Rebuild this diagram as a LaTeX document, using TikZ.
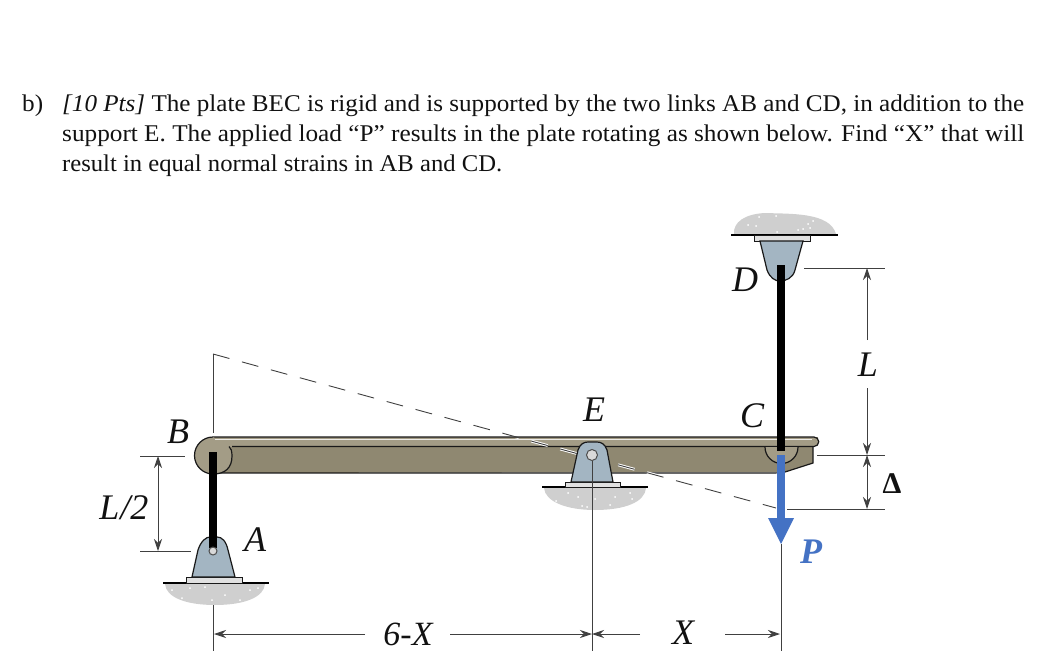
\documentclass[tikz,border=0pt]{standalone}
\usepackage{fontspec}
\setmainfont{Liberation Serif}[FakeStretch=1.05]
\newfontfamily\dimfont{Liberation Serif}
\usetikzlibrary{arrows.meta}
\definecolor{plateCol}{HTML}{8F8871}
\definecolor{plateTop}{HTML}{A39C86}
\definecolor{steelCol}{HTML}{A3B5C2}
\definecolor{groundCol}{HTML}{CFCFCF}
\definecolor{loadCol}{HTML}{4472C4}
\definecolor{inkCol}{HTML}{111111}
\tikzset{
 x=1pt,y=-1pt,
 para/.style={anchor=base west,inner sep=0pt,font=\fontsize{24}{28}\selectfont,text=inkCol},
 lab/.style={inner sep=0pt,font=\dimfont\fontsize{36}{40}\selectfont\itshape,text=inkCol},
 dimline/.style={draw=black!75,line width=0.9pt},
 dimarrow/.style={dimline,{Stealth[length=12pt,width=8pt]}-{Stealth[length=12pt,width=8pt]}},
 oneend/.style={dimline,-{Stealth[length=12pt,width=8pt]}},
 outline/.style={draw=black!90,line width=1.2pt},
 bracket/.style={outline,fill=steelCol},
 baseplate/.style={draw=black!90,line width=1pt,fill=black!12},
 groundline/.style={draw=black,line width=1.4pt},
 ground/.style={fill=groundCol,draw=none},
 speck/.style={fill=white,draw=none},
 linkbar/.style={draw=black,line width=8pt},
 pinhole/.style={circle,draw=black!70,line width=1pt,fill=black!15,inner sep=0pt},
 dashguide/.style={draw=black!75,line width=0.9pt,dash pattern=on 17pt off 13pt},
}
\begin{document}
\begin{tikzpicture}
\useasboundingbox (0,0) rectangle (1047,669);
% paragraph
\node[para] (t0) at (22,111) {b)};
\node[para] (t1) at (62,111) {\resizebox{962pt}{\height}{\textit{[10 Pts]} The plate BEC is rigid and is supported by the two links AB and CD, in addition to the}};
\node[para] (t2) at (62,141) {\resizebox{962pt}{\height}{support E. The applied load “P” results in the plate rotating as shown below. Find “X” that will}};
\node[para] (t3) at (62,171) {\resizebox{440pt}{\height}{result in equal normal strains in AB and CD.}};

% grounds
\fill[ground] (165,584) .. controls (166,597) and (185,605) .. (215,605) .. controls (245,605) and (264,597) .. (265,584) -- cycle;
\fill[ground] (544,488) .. controls (545,501) and (565,510) .. (595,510) .. controls (625,510) and (645,502) .. (646,488) -- cycle;
\fill[ground] (734,234) .. controls (733,222) and (745,214) .. (765,213) .. controls (790,214) and (830,212) .. (836,234) -- cycle;
\foreach \px/\py in {172/590,190/588,205/587,225/595,240/600,250/590,258/588,182/598,212/600}{\fill[speck] (\px,\py) circle (1pt);}
\foreach \px/\py in {556/501,568/493,578/497,582/506,595/499,615/497,632/499,630/493,610/505,587/507}{\fill[speck] (\px,\py) circle (1pt);}
\foreach \px/\py in {748/225,756/226,759/217,776/216,777/232,798/230,803/229,808/224,813/221,810/228}{\fill[speck] (\px,\py) circle (1pt);}

% guide lines above plate
\coordinate (guideB) at (213,354);
\coordinate (guideBlow) at (213,433);
\draw[dimline] (guideB) -- (guideBlow);

% plate
\fill[plateCol] (213,437) -- (818,437) -- (813,447) -- (813,463) -- (785,472) -- (213,473) -- cycle;
\draw[outline] (213,473) -- (765,473) .. controls (775,473) and (780,473) .. (785,472) -- (813,463) -- (813,446);
\fill[plateTop] (213,437) rectangle (814,446.5);
\draw[outline,fill=plateTop] (213,437) -- (814,437) arc[start angle=270,end angle=450,radius=4.75] -- (232,446.5);
\draw[outline,fill=plateTop] (213,437) arc[start angle=270,end angle=90,radius=18.5] .. controls (225,474) and (232,468) .. (232,456) .. controls (232,451) and (231,448) .. (229,446.5);
\fill[plateTop] (212,438) -- (229,438) -- (229,446) -- (212,446) -- cycle;
\draw[outline,fill=plateTop] (765,447) arc[start angle=180,end angle=0,radius=16.5];
\draw[draw=white!80!plateTop,line width=0.8pt] (215,439) -- (812,439);

% dashed rotated line
\coordinate (guideStart) at (213,354);
\coordinate (guideEnd) at (776,508);
\begin{scope}
\clip (236,438) rectangle (770,474);
\draw[draw=white,line width=2.8pt,dash pattern=on 17pt off 13pt] (guideStart) -- (guideEnd);
\end{scope}
\draw[dashguide] (guideStart) -- (guideEnd);

% support E
\draw[groundline] (542,487) -- (648,487);
\draw[baseplate] (565,482) rectangle (620,487);
\draw[bracket] (571,482) -- (578,450) .. controls (580,444) and (584,442) .. (588,442) -- (597,442) .. controls (601,442) and (605,444) .. (607,450) -- (613,482) -- cycle;
\node[pinhole,minimum size=11pt] (pinE) at (592,455) {};
\coordinate (botE) at (592,651);
\draw[dimline] (pinE.south) -- (botE);

% support A and link AB
\draw[groundline] (163,583) -- (269,583);
\draw[baseplate] (186,577) rectangle (242,583);
\draw[bracket] (192,577) -- (198,550) .. controls (201,541) and (206,537) .. (210,537) -- (217,537) .. controls (222,537) and (226,541) .. (228,550) -- (235,577) -- cycle;
\coordinate (linkBtop) at (213,452);
\coordinate (linkBbot) at (213,548);
\draw[linkbar] (linkBtop) -- (linkBbot);
\node[pinhole,minimum size=8pt] (pinA) at (213,551) {};

% support D and link CD
\draw[groundline] (731,235) -- (838,235);
\draw[baseplate] (754,235) rectangle (810,241);
\draw[bracket] (760,241) -- (767,270) .. controls (770,278) and (775,281) .. (780,281) .. controls (786,281) and (793,278) .. (795,270) -- (803,241) -- cycle;
\coordinate (linkDtop) at (781,265);
\coordinate (linkDbot) at (781,451);
\draw[linkbar] (linkDtop) -- (linkDbot);

% load
\coordinate (loadTop) at (781,455);
\coordinate (loadTip) at (781,544);
\coordinate (loadNeck) at (781,518);
\draw[loadCol,line width=8pt] (loadTop) -- (loadNeck);
\fill[loadCol] (768,518) -- (794,518) -- (loadTip) -- cycle;
\coordinate (botC) at (781,651);
\draw[dimline] (loadTip) -- (botC);

% labels
\node[lab] (B) at (178,432) {B};
\node[lab] (A) at (255,540) {A};
\node[lab] (E) at (594,410) {E};
\node[lab] (C) at (752,416) {C};
\node[lab] (D) at (745,280) {D};
\node[lab] (Lside) at (868,365) {L};
\node[lab] (P) at (811,552) {\textcolor{loadCol}{\bfseries P}};
\node[inner sep=0pt,font=\dimfont\fontsize{30}{32}\selectfont\bfseries,text=inkCol] (Delta) at (892,484) {Δ};
\node[lab] (Lhalf) at (124,508) {L\hspace{1pt}/2};
\node[inner sep=0pt,font=\dimfont\fontsize{34}{36}\selectfont\itshape,text=inkCol] (sixX) at (408,634) {6-X};
\node[lab] (Xlab) at (683,633) {X};

% L/2 dimension
\coordinate (h1a) at (140,456); \coordinate (h1b) at (185,456);
\coordinate (h2a) at (140,551); \coordinate (h2b) at (191,551);
\coordinate (v1) at (158,456); \coordinate (v2) at (158,551);
\draw[dimline] (h1a) -- (h1b);
\draw[dimline] (h2a) -- (h2b);
\draw[dimarrow] (v1) -- (v2);

% left ext
\coordinate (botAtop) at (213,605); \coordinate (botA) at (213,651);
\draw[dimline] (botAtop) -- (botA);

% bottom dimension
\coordinate (dA) at (214,634); \coordinate (dE) at (592,634); \coordinate (dC) at (780,634);
\draw[oneend] (365,634) -- (dA);
\draw[oneend] (450,634) -- (dE);
\draw[oneend] (640,634) -- (dE);
\draw[oneend] (725,634) -- (dC);

% right dimensions
\coordinate (r1a) at (804,268); \coordinate (r1b) at (885,268);
\coordinate (r2a) at (817,455); \coordinate (r2b) at (885,455);
\coordinate (r3a) at (787,509); \coordinate (r3b) at (885,509);
\draw[dimline] (r1a) -- (r1b);
\draw[dimline] (r2a) -- (r2b);
\draw[dimline] (r3a) -- (r3b);
\coordinate (vt) at (867,268); \coordinate (vm) at (867,455); \coordinate (vb) at (867,509);
\draw[oneend] (867,340) -- (vt);
\draw[oneend] (867,388) -- (vm);
\draw[dimarrow] (vm) -- (vb);
\end{tikzpicture}
\end{document}
